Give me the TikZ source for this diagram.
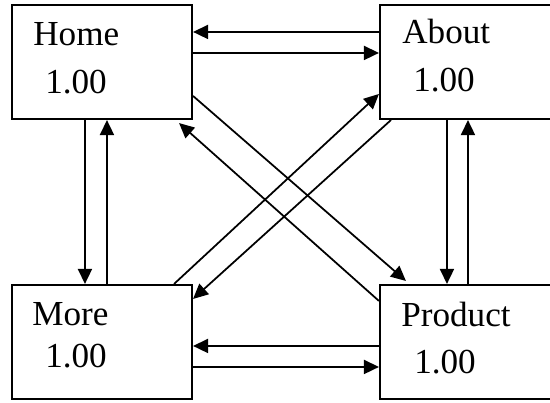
\documentclass[tikz,border=0pt]{standalone}
\usepackage{fontspec}
\setmainfont{Liberation Serif}
\usetikzlibrary{arrows.meta,calc}

\begin{document}
\begin{tikzpicture}[
    x=0.02cm, y=-0.02cm,
    page/.style={draw, line width=1.2pt, minimum width=3.6cm, minimum height=2.28cm},
    pname/.style={anchor=base west, inner sep=0pt, font=\fontsize{20}{24}\selectfont},
    arr/.style={-{Triangle[length=0.3cm, width=0.28cm]}, line width=1pt},
]
\clip (0,0) rectangle (550,402);

% --- Pages ---
\node[page] (home) at (102, 62) {};
\node[page] (about) at (470, 62) {};
\node[page] (more) at (102, 342) {};
\node[page] (product) at (470, 342) {};

% --- Names and values ---
\node[pname] (homename) at ($(home.north west)+(22,42)$) {Home};
\node[pname] (homeval) at ($(home.north west)+(34,90)$) {1.00};
\node[pname] (aboutname) at ($(about.north west)+(23,40)$) {About};
\node[pname] (aboutval) at ($(about.north west)+(34,88)$) {1.00};
\node[pname] (morename) at ($(more.north west)+(21,42)$) {More};
\node[pname] (moreval) at ($(more.north west)+(34,84)$) {1.00};
\node[pname] (productname) at ($(product.north west)+(22,43)$) {Product};
\node[pname] (productval) at ($(product.north west)+(35,90)$) {1.00};

% === Home <-> About ===
\draw[arr] ($(about.north west)+(0,28)$) -- ($(home.north east)+(0,28)$);
\draw[arr] ($(home.north east)+(0,49)$) -- ($(about.north west)+(0,49)$);

% === More <-> Product ===
\draw[arr] ($(product.north west)+(0,62)$) -- ($(more.north east)+(0,62)$);
\draw[arr] ($(more.north east)+(0,83)$) -- ($(product.north west)+(0,83)$);

% === Home <-> More ===
\draw[arr] ($(home.south west)+(74,0)$) -- ($(more.north west)+(74,0)$);
\draw[arr] ($(more.north west)+(96,0)$) -- ($(home.south west)+(96,0)$);

% === About <-> Product ===
\draw[arr] ($(about.south west)+(68,0)$) -- ($(product.north west)+(68,0)$);
\draw[arr] ($(product.north west)+(89,0)$) -- ($(about.south west)+(89,0)$);

% === Diagonals ===
\draw[arr] ($(home.north east)+(0,92)$) -- ($(product.north west)+(27,-3)$);
\draw[arr] ($(product.north west)+(0,17)$) -- ($(home.south east)+(-14,3)$);
\draw[arr] ($(more.north east)+(-19,0)$) -- ($(about.north west)+(0,90)$);
\draw[arr] ($(about.south west)+(12,0)$) -- ($(more.north east)+(0,15)$);

\end{tikzpicture}
\end{document}
